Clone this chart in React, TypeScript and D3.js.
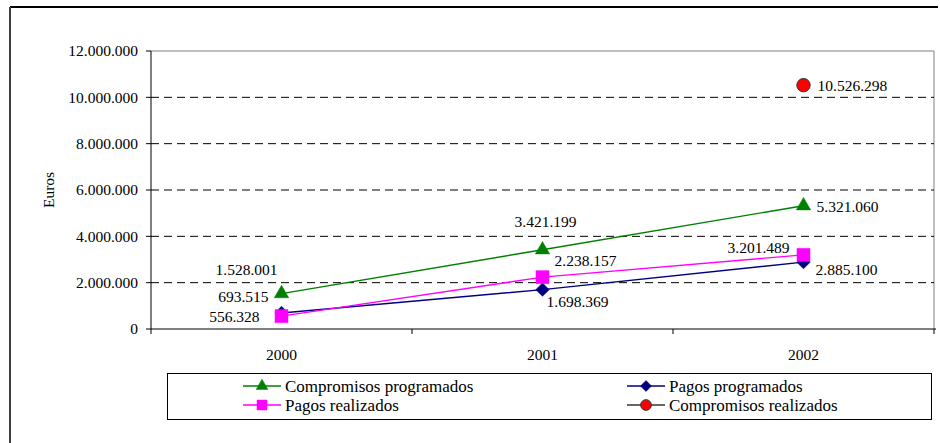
import React from "react";
import * as d3 from "d3";

const years = ["2000", "2001", "2002"];
const compromisosProgramados = [1528001, 3421199, 5321060];
const pagosProgramados = [693515, 1698369, 2885100];
const pagosRealizados = [556328, 2238157, 3201489];
const compromisosRealizados: (number | null)[] = [null, null, 10526298];
const yTicks = [0, 2000000, 4000000, 6000000, 8000000, 10000000, 12000000];
const yTitle = "Euros";
const legendNames = ["Compromisos programados", "Pagos programados", "Pagos realizados", "Compromisos realizados"];

const FONT = '"Liberation Serif"';
const fmt = (v: number) => d3.format(",")(v).replace(/,/g, ".");

type Series = {
  name: string;
  values: (number | null)[];
  color: string;
  stroke: string;
  symbol: d3.SymbolType;
  size: number;
  legendSize: number;
  labels: [number, number, string][];
};

const diamond: d3.SymbolType = {
  draw(ctx: any, size: number) {
    const r = Math.sqrt(size / 2);
    ctx.moveTo(0, -r);
    ctx.lineTo(r, 0);
    ctx.lineTo(0, r);
    ctx.lineTo(-r, 0);
    ctx.closePath();
  },
};

export default function App() {
  const W = 940, H = 443;
  const left = 151, right = 934, top = 51, bottom = 329;
  const x = d3.scaleBand<string>().domain(years).range([left, right]).padding(0);
  const y = d3.scaleLinear().domain([0, 12000000]).range([bottom, top]);
  const cx = (i: number) => (x(years[i]) as number) + x.bandwidth() / 2;

  const series: Series[] = [
    {
      name: legendNames[1], values: pagosProgramados, color: "#000080", stroke: "#000080",
      symbol: diamond, size: 90, legendSize: 60,
      labels: [[-13, -16, "end"], [4, 12, "start"], [12, 7, "start"]],
    },
    {
      name: legendNames[2], values: pagosRealizados, color: "#FF00FF", stroke: "#FF00FF",
      symbol: d3.symbolSquare, size: 169, legendSize: 100,
      labels: [[-22, 0, "end"], [12, -17, "start"], [-14, -7, "end"]],
    },
    {
      name: legendNames[0], values: compromisosProgramados, color: "#008000", stroke: "#008000",
      symbol: d3.symbolTriangle, size: 90, legendSize: 60,
      labels: [[-35, -24, "middle"], [3, -28, "middle"], [13, 1, "start"]],
    },
    {
      name: legendNames[3], values: compromisosRealizados, color: "#FF0000", stroke: "#333333",
      symbol: d3.symbolCircle, size: 140, legendSize: 90,
      labels: [[0, 0, "start"], [0, 0, "start"], [14, 0, "start"]],
    },
  ];

  const line = d3.line<[number, number | null]>()
    .defined((d) => d[1] !== null)
    .x((d) => cx(d[0]))
    .y((d) => y(d[1] as number));

  const legendItems = [
    { s: series[2], lx: 243, ly: 386 },
    { s: series[0], lx: 627, ly: 386 },
    { s: series[1], lx: 243, ly: 405 },
    { s: series[3], lx: 627, ly: 405 },
  ];

  const tStyle = { fontFamily: FONT };

  return (
    <svg width={W} height={H} style={{ position: "absolute", left: 0, top: 0, background: "#fff" }}>
      <line x1={10} y1={7} x2={938} y2={7} stroke="#000" strokeWidth={2} />
      <line x1={10} y1={7} x2={10} y2={H} stroke="#404040" strokeWidth={2} />

      <line x1={left} y1={top} x2={right} y2={top} stroke="#808080" strokeWidth={1} />
      <line x1={right} y1={top} x2={right} y2={bottom} stroke="#808080" strokeWidth={1} />

      {yTicks.filter((t) => t > 0 && t < 12000000).map((t) => (
        <line key={t} x1={left} x2={right} y1={y(t)} y2={y(t)} stroke="#000" strokeDasharray="8,5" strokeWidth={1} />
      ))}

      <line x1={left} y1={top} x2={left} y2={bottom} stroke="#000" />
      {yTicks.map((t) => (
        <g key={t}>
          <line x1={left - 5} x2={left} y1={y(t)} y2={y(t)} stroke="#000" />
          <text x={left - 13} y={y(t)} dy="0.35em" textAnchor="end" fontSize={15.5} fill="#000" style={tStyle}>{fmt(t)}</text>
        </g>
      ))}
      <text transform={`translate(49,${(top + bottom) / 2}) rotate(-90)`} textAnchor="middle" dy="0.35em" fontSize={15.5} fill="#000" style={tStyle}>{yTitle}</text>

      <line x1={left} y1={bottom} x2={right + 2} y2={bottom} stroke="#000" />
      {[...years.map((yr) => x(yr) as number), right].map((v, i) => (
        <line key={i} x1={v} x2={v} y1={bottom} y2={bottom + 5} stroke="#000" />
      ))}
      {years.map((yr, i) => (
        <text key={yr} x={cx(i)} y={355} dy="0.35em" textAnchor="middle" fontSize={15.5} fill="#000" style={tStyle}>{yr}</text>
      ))}

      {series.map((s) => (
        <path key={s.name} d={line(s.values.map((v, i) => [i, v] as [number, number | null])) || ""} fill="none" stroke={s.color} strokeWidth={1.4} />
      ))}

      {series.map((s) =>
        s.values.map((v, i) =>
          v === null ? null : (
            <path key={s.name + i} d={d3.symbol().type(s.symbol).size(s.size)() || ""}
              transform={`translate(${cx(i)},${y(v)})`} fill={s.color}
              stroke={s.symbol === d3.symbolCircle ? s.stroke : s.color} strokeWidth={s.symbol === d3.symbolCircle ? 1 : 0.5} />
          )
        )
      )}

      {series.map((s) =>
        s.values.map((v, i) =>
          v === null ? null : (
            <text key={"l" + s.name + i} x={cx(i) + s.labels[i][0]} y={y(v) + s.labels[i][1]} dy="0.35em"
              textAnchor={s.labels[i][2]} fontSize={15.5} fill="#000" style={tStyle}>{fmt(v)}</text>
          )
        )
      )}

      <rect x={167.5} y={373.5} width={764} height={46} fill="none" stroke="#000" strokeWidth={1} />
      {legendItems.map(({ s, lx, ly }) => (
        <g key={s.name}>
          <line x1={lx} x2={lx + 38} y1={ly} y2={ly} stroke={s.stroke} strokeWidth={1.4} />
          <path d={d3.symbol().type(s.symbol).size(s.legendSize)() || ""} transform={`translate(${lx + 19},${ly})`}
            fill={s.color} stroke={s.symbol === d3.symbolCircle ? s.stroke : s.color} strokeWidth={s.symbol === d3.symbolCircle ? 1 : 0.5} />
          <text x={lx + 42} y={ly} dy="0.35em" fontSize={17} fill="#000" style={tStyle}>{s.name}</text>
        </g>
      ))}
    </svg>
  );
}
